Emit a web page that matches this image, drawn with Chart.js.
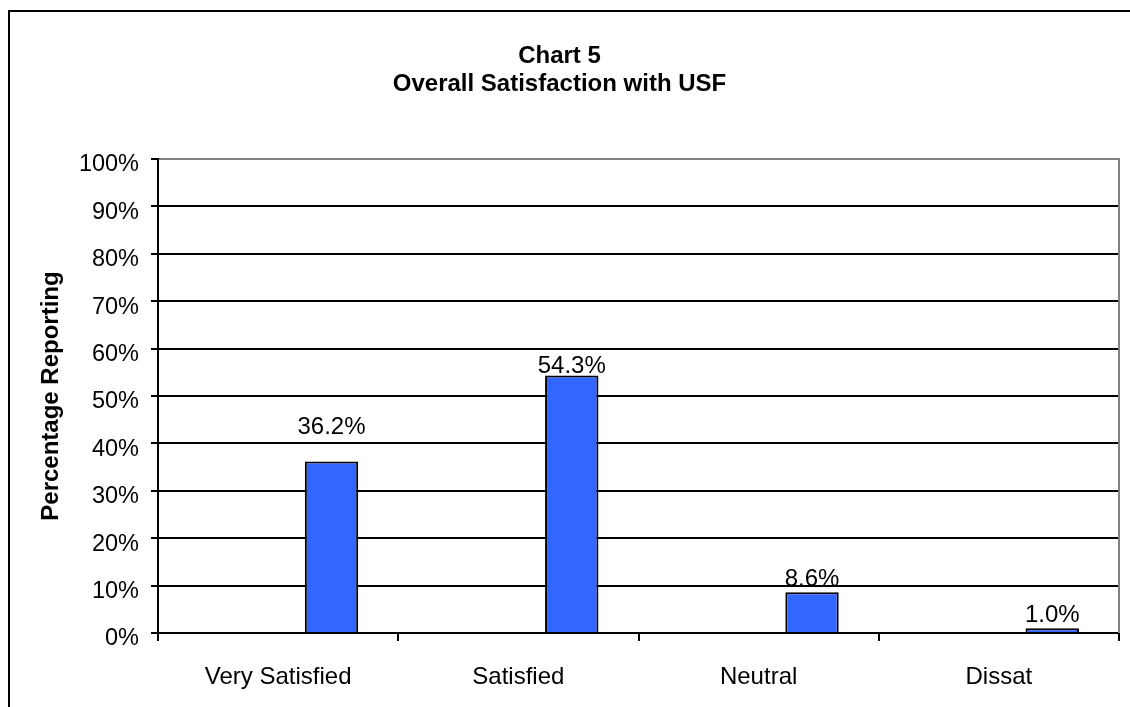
<!DOCTYPE html>
<html><head><meta charset="utf-8">
<script src="https://cdn.jsdelivr.net/npm/chart.js@4"></script>
<style>html,body{margin:0;padding:0;background:#fff}#wrap{width:1130px;height:707px;position:relative}</style>
</head><body><div id="wrap"><canvas id="c"></canvas></div>
<script>
const categories = ['Very Satisfied', 'Satisfied', 'Neutral', 'Dissat'];
const satisfactionPct = [36.2, 54.3, 8.6, 1.0];
const placeholderSeriesA = [null, null, null, null];
const placeholderSeriesB = [null, null, null, null];
const titleLines = ['Chart 5', 'Overall Satisfaction with USF'];
const yAxisTitle = 'Percentage Reporting';
const yMin = 0, yMax = 100, yStep = 10;

const FONT = "'Liberation Sans', Arial, sans-serif";

const framePlugin = {
  id: 'frame',
  beforeDraw(chart) {
    const ctx = chart.ctx;
    ctx.save();
    ctx.fillStyle = '#fff';
    ctx.fillRect(0, 0, chart.width, chart.height);
    ctx.strokeStyle = '#000';
    ctx.lineWidth = 2;
    ctx.strokeRect(9, 11, 1300, 900);
    ctx.restore();
  },
  afterDatasetsDraw(chart) {
    const {ctx, chartArea: a} = chart;
    ctx.save();
    ctx.strokeStyle = '#808080';
    ctx.lineWidth = 2;
    ctx.beginPath();
    ctx.moveTo(a.left + 1, a.top);
    ctx.lineTo(a.right, a.top);
    ctx.lineTo(a.right, a.bottom);
    ctx.stroke();
    ctx.restore();
  }
};

const valueLabelPlugin = {
  id: 'valueLabels',
  afterDatasetsDraw(chart, args, opts) {
    const ctx = chart.ctx;
    const meta = chart.getDatasetMeta(2);
    const data = chart.data.datasets[2].data;
    ctx.save();
    ctx.font = '24px ' + FONT;
    ctx.fillStyle = '#000';
    ctx.textAlign = 'center';
    ctx.textBaseline = 'alphabetic';
    meta.data.forEach((bar, i) => {
      const gap = opts.gaps[i] || 6;
      ctx.fillText(Number(data[i]).toFixed(1) + '%', bar.x, bar.y - gap);
    });
    ctx.restore();
  }
};

const barStyle = {
  backgroundColor: '#3366FF',
  borderColor: '#000',
  borderWidth: 2,
  categoryPercentage: 3 / 4.5,
  barPercentage: 1
};

new Chart(document.getElementById('c'), {
  type: 'bar',
  data: {
    labels: categories,
    datasets: [
      Object.assign({label: 'Series A', data: placeholderSeriesA}, barStyle),
      Object.assign({label: 'Series B', data: placeholderSeriesB}, barStyle),
      Object.assign({label: 'Overall Satisfaction', data: satisfactionPct}, barStyle)
    ]
  },
  options: {
    responsive: true,
    maintainAspectRatio: false,
    animation: false,
    devicePixelRatio: 1,
    layout: {padding: {top: 0, right: 11, bottom: 0, left: 0}},
    plugins: {
      legend: {display: false},
      tooltip: {enabled: false},
      title: {
        display: true,
        text: titleLines,
        color: '#000',
        font: {family: FONT, size: 24, weight: 'bold', lineHeight: 1.2},
        padding: {top: 41.5, bottom: 59.9}
      },
      valueLabels: {gaps: [27, 3, 6, 6]}
    },
    scales: {
      x: {
        afterFit(scale) { scale.height = 74; },
        grid: {
          offset: true,
          drawOnChartArea: false,
          drawTicks: true,
          tickLength: 8,
          color: '#000',
          lineWidth: 2
        },
        border: {display: true, color: '#000', width: 2},
        ticks: {color: '#000', padding: 22, font: {family: FONT, size: 24}, maxRotation: 0, autoSkip: false}
      },
      y: {
        min: yMin,
        max: yMax,
        afterFit(scale) { scale.width = 158; },
        grid: {color: '#000', lineWidth: 2, tickLength: 7, drawTicks: true},
        border: {display: true, color: '#000', width: 2},
        ticks: {
          stepSize: yStep,
          color: '#000',
          padding: 12,
          labelOffset: 6,
          font: {family: FONT, size: 23.5},
          callback: v => v + '%'
        },
        title: {
          display: true,
          text: yAxisTitle,
          color: '#000',
          font: {family: FONT, size: 24, weight: 'bold', lineHeight: 1.2},
          padding: {top: 37, bottom: 0}
        }
      }
    }
  },
  plugins: [framePlugin, valueLabelPlugin]
});
</script></body></html>
